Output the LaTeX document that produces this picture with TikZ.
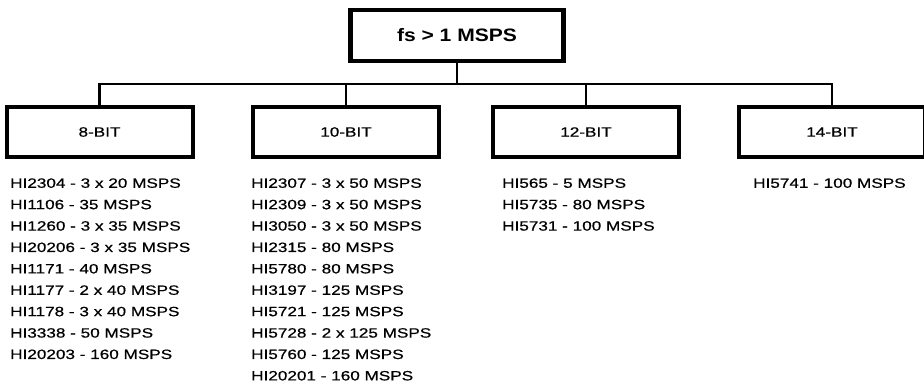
\documentclass[tikz,border=0pt]{standalone}
\usepackage{fontspec}
\setmainfont[FakeStretch=1.27,FakeBold=0.6]{Liberation Sans}
\newfontfamily\topfont[FakeStretch=1.17]{Liberation Sans}
\begin{document}
\begin{tikzpicture}[x=1pt,y=-1pt,
  box/.style={draw,line width=4pt,minimum width=186pt,minimum height=50pt,inner sep=0pt,font=\fontsize{13.5}{16}\selectfont},
  topbox/.style={draw,line width=4.3pt,minimum width=213pt,minimum height=51pt,inner sep=0pt,font=\topfont\bfseries\fontsize{18}{21}\selectfont},
  conn/.style={line width=2.4pt},
  item/.style={anchor=base west,inner sep=0pt,font=\fontsize{13.5}{16}\selectfont}]
\useasboundingbox (0,0) rectangle (924,387);
\node[topbox] (top) at (457,35.5) {fs > 1 MSPS};
\node[box] (b8) at (99.5,132) {8-BIT};
\node[box] (b10) at (346,132) {10-BIT};
\node[box] (b12) at (586,132) {12-BIT};
\node[box] (b14) at (832,132) {14-BIT};
\coordinate (bus) at (457,84);
\draw[conn] (top.south) -- (bus);
\draw[conn] (b8.north) -- (b8.north |- bus) -- (b14.north |- bus) -- (b14.north);
\draw[conn] (b10.north) -- (b10.north |- bus);
\draw[conn] (b12.north) -- (b12.north |- bus);
\foreach [count=\i] \t in {HI2304 - 3 x 20 MSPS, HI1106 - 35 MSPS, HI1260 - 3 x 35 MSPS, HI20206 - 3 x 35 MSPS, HI1171 - 40 MSPS, HI1177 - 2 x 40 MSPS, HI1178 - 3 x 40 MSPS, HI3338 - 50 MSPS, HI20203 - 160 MSPS}
  \node[item] (a\i) at (10,{166.4+21.4*\i}) {\t};
\foreach [count=\i] \t in {HI2307 - 3 x 50 MSPS, HI2309 - 3 x 50 MSPS, HI3050 - 3 x 50 MSPS, HI2315 - 80 MSPS, HI5780 - 80 MSPS, HI3197 - 125 MSPS, HI5721 - 125 MSPS, HI5728 - 2 x 125 MSPS, HI5760 - 125 MSPS, HI20201 - 160 MSPS}
  \node[item] (c\i) at (251,{166.4+21.4*\i}) {\t};
\foreach [count=\i] \t in {HI565 - 5 MSPS, HI5735 - 80 MSPS, HI5731 - 100 MSPS}
  \node[item] (d\i) at (502,{166.4+21.4*\i}) {\t};
\foreach [count=\i] \t in {HI5741 - 100 MSPS}
  \node[item] (e\i) at (753,{166.4+21.4*\i}) {\t};
\end{tikzpicture}
\end{document}
